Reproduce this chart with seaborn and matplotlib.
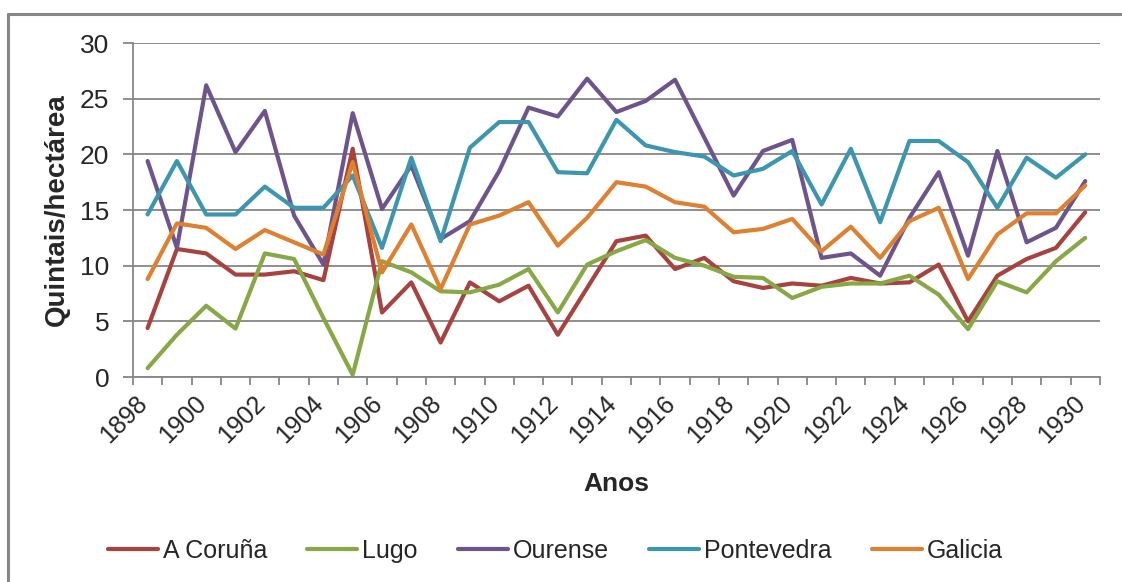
import matplotlib
matplotlib.use("Agg")
import matplotlib.pyplot as plt
import matplotlib.transforms as mtransforms
from matplotlib.lines import Line2D
import numpy as np
import pandas as pd
import seaborn as sns

years = list(range(1898, 1931))
coruna = [4.4, 11.5, 11.1, 9.2, 9.2, 9.5, 8.7, 20.5, 5.8, 8.5, 3.1, 8.5, 6.8, 8.2, 3.8, 8.0,
          12.2, 12.7, 9.7, 10.7, 8.6, 8.0, 8.4, 8.2, 8.9, 8.4, 8.5, 10.1, 5.0, 9.1, 10.6, 11.6, 14.8]
lugo = [0.8, 3.8, 6.4, 4.35, 11.1, 10.6, 5.3, 0.2, 10.4, 9.4, 7.7, 7.6, 8.3, 9.7, 5.8, 10.1,
        11.3, 12.3, 10.7, 10.0, 9.0, 8.9, 7.1, 8.1, 8.4, 8.4, 9.1, 7.4, 4.3, 8.6, 7.6, 10.4, 12.5]
ourense = [19.4, 11.6, 26.2, 20.2, 23.9, 14.5, 10.1, 23.7, 15.1, 19.0, 12.4, 14.0, 18.5, 24.2, 23.4, 26.8,
           23.8, 24.8, 26.7, 21.5, 16.3, 20.3, 21.3, 10.7, 11.1, 9.1, 14.3, 18.4, 10.9, 20.3, 12.1, 13.4, 17.6]
pontevedra = [14.6, 19.4, 14.6, 14.6, 17.1, 15.2, 15.2, 18.1, 11.6, 19.7, 12.2, 20.6, 22.9, 22.9, 18.4, 18.3,
              23.1, 20.8, 20.2, 19.8, 18.1, 18.7, 20.3, 15.5, 20.5, 13.9, 21.2, 21.2, 19.3, 15.2, 19.7, 17.9, 20.0]
galicia = [8.8, 13.8, 13.4, 11.5, 13.2, 12.1, 11.0, 19.3, 9.4, 13.7, 7.9, 13.7, 14.5, 15.7, 11.8, 14.3,
           17.5, 17.1, 15.7, 15.3, 13.0, 13.3, 14.2, 11.3, 13.5, 10.7, 14.0, 15.2, 8.8, 12.8, 14.7, 14.7, 17.2]

series = {"A Coruña": coruna, "Lugo": lugo, "Ourense": ourense,
          "Pontevedra": pontevedra, "Galicia": galicia}
colors = ["#A8423F", "#86A845", "#6E548D", "#3C96B0", "#DE8030"]

df = pd.concat([pd.DataFrame({"Ano": years, "valor": v, "serie": k}) for k, v in series.items()])

sns.set_style("white")
plt.rcParams["font.family"] = ["Liberation Sans", "DejaVu Sans"]
grey = "#868686"

fig = plt.figure(figsize=(11.22, 5.82), dpi=100)
ax = fig.add_axes([0.1185, 0.3522, 0.8618, 0.5739])

sns.lineplot(data=df, x="Ano", y="valor", hue="serie", palette=colors,
             linewidth=3, ax=ax, legend=True)

ax.set_xlim(1897.5, 1930.5)
ax.set_ylim(0, 30)
ax.set_yticks(range(0, 31, 5))
ax.set_xticks(range(1898, 1931, 2))
ax.set_xticks(np.arange(1897.5, 1931, 1), minor=True)
ax.grid(axis="y", color=grey, linewidth=1.3)
ax.set_axisbelow(True)
for s in ["top", "right"]:
    ax.spines[s].set_visible(False)
for s in ["left", "bottom"]:
    ax.spines[s].set_color(grey)
    ax.spines[s].set_linewidth(1.3)

ax.tick_params(axis="y", which="major", direction="out", length=7, width=1.3,
               color=grey, labelsize=19, pad=10, left=True)
ax.tick_params(axis="x", which="major", length=0, labelsize=18, pad=10, bottom=True)
ax.tick_params(axis="x", which="minor", direction="out", length=6, width=1.3,
               color=grey, bottom=True)
shift = mtransforms.ScaledTranslation(-0.12, 0, fig.dpi_scale_trans)
for lab in ax.get_xticklabels():
    lab.set_rotation(45)
    lab.set_ha("right")
    lab.set_va("top")
    lab.set_rotation_mode("anchor")
    lab.set_transform(lab.get_transform() + shift)

ax.set_xlabel("Anos", fontsize=19, fontweight="bold", labelpad=18)
ax.set_ylabel("Quintais/hectárea", fontsize=20, fontweight="bold", labelpad=7)

handles, labels = ax.get_legend_handles_labels()
ax.get_legend().remove()
fig.legend(handles, labels, loc="center", bbox_to_anchor=(0.495, 0.0533), ncol=5,
           frameon=False, fontsize=18, handlelength=2.0, handletextpad=0.2,
           columnspacing=1.6)

# outer chart border: left and top edges
fig.lines.append(Line2D([8, 8], [0, 568], transform=None, color=grey, linewidth=2.2))
fig.lines.append(Line2D([8, 1121], [568, 568], transform=None, color=grey, linewidth=2.2))

fig.savefig("out.png", dpi=100)
